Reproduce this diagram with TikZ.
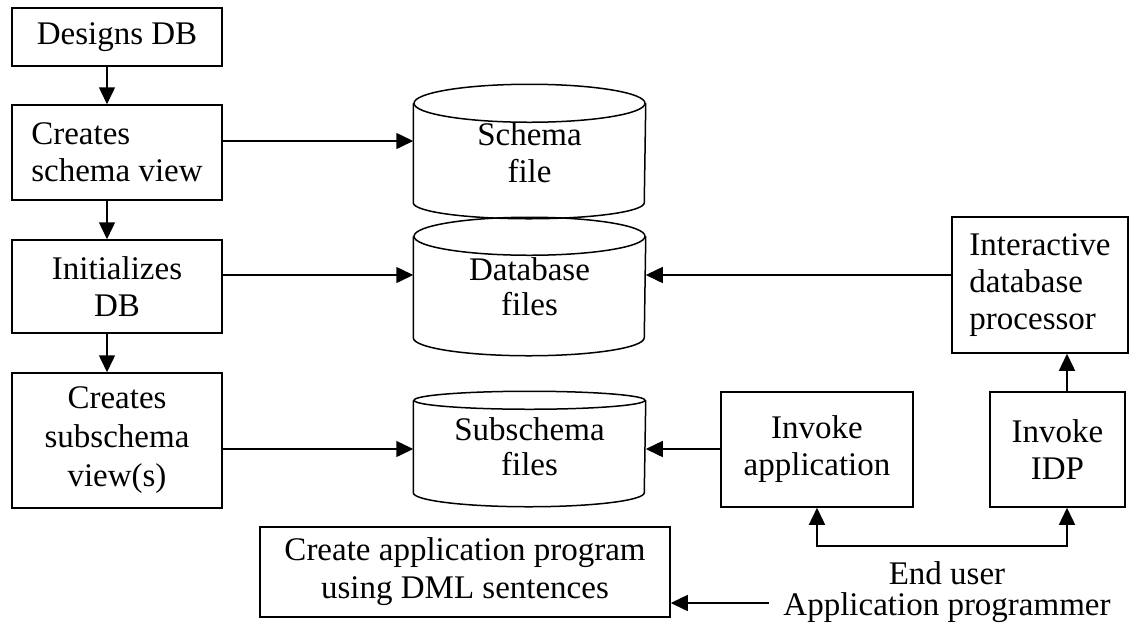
\documentclass[tikz,border=0pt]{standalone}
\usepackage{fontspec}
\setmainfont{Liberation Serif}
\usetikzlibrary{arrows.meta}

\begin{document}
\begin{tikzpicture}[x=1pt,y=-1pt,
  font=\fontsize{33}{37}\selectfont,
  line width=1.5pt,
  box/.style={draw, line width=1.5pt, inner sep=0pt, align=center},
  cyl/.style={inner sep=0pt, align=center, minimum width=231pt},
  lefttext/.style={box, align=left},
  link/.style={-{Triangle[length=17pt,width=16pt]}},
  dlink/.style={{Triangle[length=17pt,width=16pt]}-{Triangle[length=17pt,width=16pt]}}]
\useasboundingbox (0,0) rectangle (1141,630);

% left column: design steps
\node[box, minimum width=210pt, minimum height=58pt] (design) at (117,37) {Designs DB};
\node[lefttext, minimum width=210pt, minimum height=95pt] (csv) at (117,152.5) {Creates\\schema view};
\node[box, minimum width=210pt, minimum height=93pt] (init) at (117,286.5) {Initializes\\DB};
\node[box, minimum width=210pt, minimum height=135pt, font=\fontsize{33}{39}\selectfont] (css) at (117,440.5) {Creates\\subschema\\view(s)};

\draw[link] (design.south -| 107,0) -- (csv.north -| 107,0);
\draw[link] (csv.south -| 107,0) -- (init.north -| 107,0);
\draw[link] (init.south -| 107,0) -- (css.north -| 107,0);

% stored files (cylinders)
\node[cyl, minimum height=98pt] (schema) at (529.5,153) {Schema\\file};
\draw (schema.north west) -- (schema.south west)
  arc[start angle=180, end angle=360, x radius=115.5pt, y radius=16pt] -- (schema.north east);
\draw (schema.north) ellipse [x radius=115.5pt, y radius=19pt];

\node[cyl, minimum height=100pt, font=\fontsize{33}{35}\selectfont] (dbf) at (529.5,287) {Database\\files};
\draw (dbf.north west) -- (dbf.south west)
  arc[start angle=180, end angle=360, x radius=115.5pt, y radius=18pt] -- (dbf.north east);
\draw (dbf.north) ellipse [x radius=115.5pt, y radius=19pt];

\node[cyl, minimum height=91pt, font=\fontsize{33}{35}\selectfont] (subf) at (529.5,446.5) {Subschema\\files};
\draw (subf.north west) -- (subf.south west)
  arc[start angle=180, end angle=360, x radius=115.5pt, y radius=14pt] -- (subf.north east);
\draw (subf.north) ellipse [x radius=115.5pt, y radius=9pt];

\draw[link] (csv.east |- 0,141) -- (schema.west |- 0,141);
\draw[link] (init.east |- 0,275) -- (dbf.west |- 0,275);
\draw[link] (css.east |- 0,449) -- (subf.west |- 0,449);

% processors on the right
\node[lefttext, minimum width=176pt, minimum height=136pt] (idp) at (1040,285) {Interactive\\database\\processor};
\node[box, minimum width=192pt, minimum height=115pt] (app) at (817,449.5) {Invoke\\application};
\node[box, minimum width=135pt, minimum height=115pt] (iidp) at (1057.5,449.5) {Invoke\\IDP};

\draw[link] (idp.west |- 0,275) -- (dbf.east |- 0,275);
\draw[link] (app.west |- 0,449) -- (subf.east |- 0,449);
\draw[link] (iidp.north -| 1067,0) -- (idp.south -| 1067,0);
\draw[dlink] (app.south) -- ++(0,38) -| (iidp.south -| 1067,0);

% users and the application program
\node[inner ysep=0pt, inner xsep=14pt, align=center, font=\fontsize{33}{31}\selectfont] (user) at (947,592) {End user\\Application programmer};
\node[box, minimum width=410pt, minimum height=90pt, font=\fontsize{33}{38}\selectfont] (create) at (465,572) {Create application program\\using DML sentences};

\draw[link] (user.west |- 0,603) -- (create.east |- 0,603);
\end{tikzpicture}
\end{document}
